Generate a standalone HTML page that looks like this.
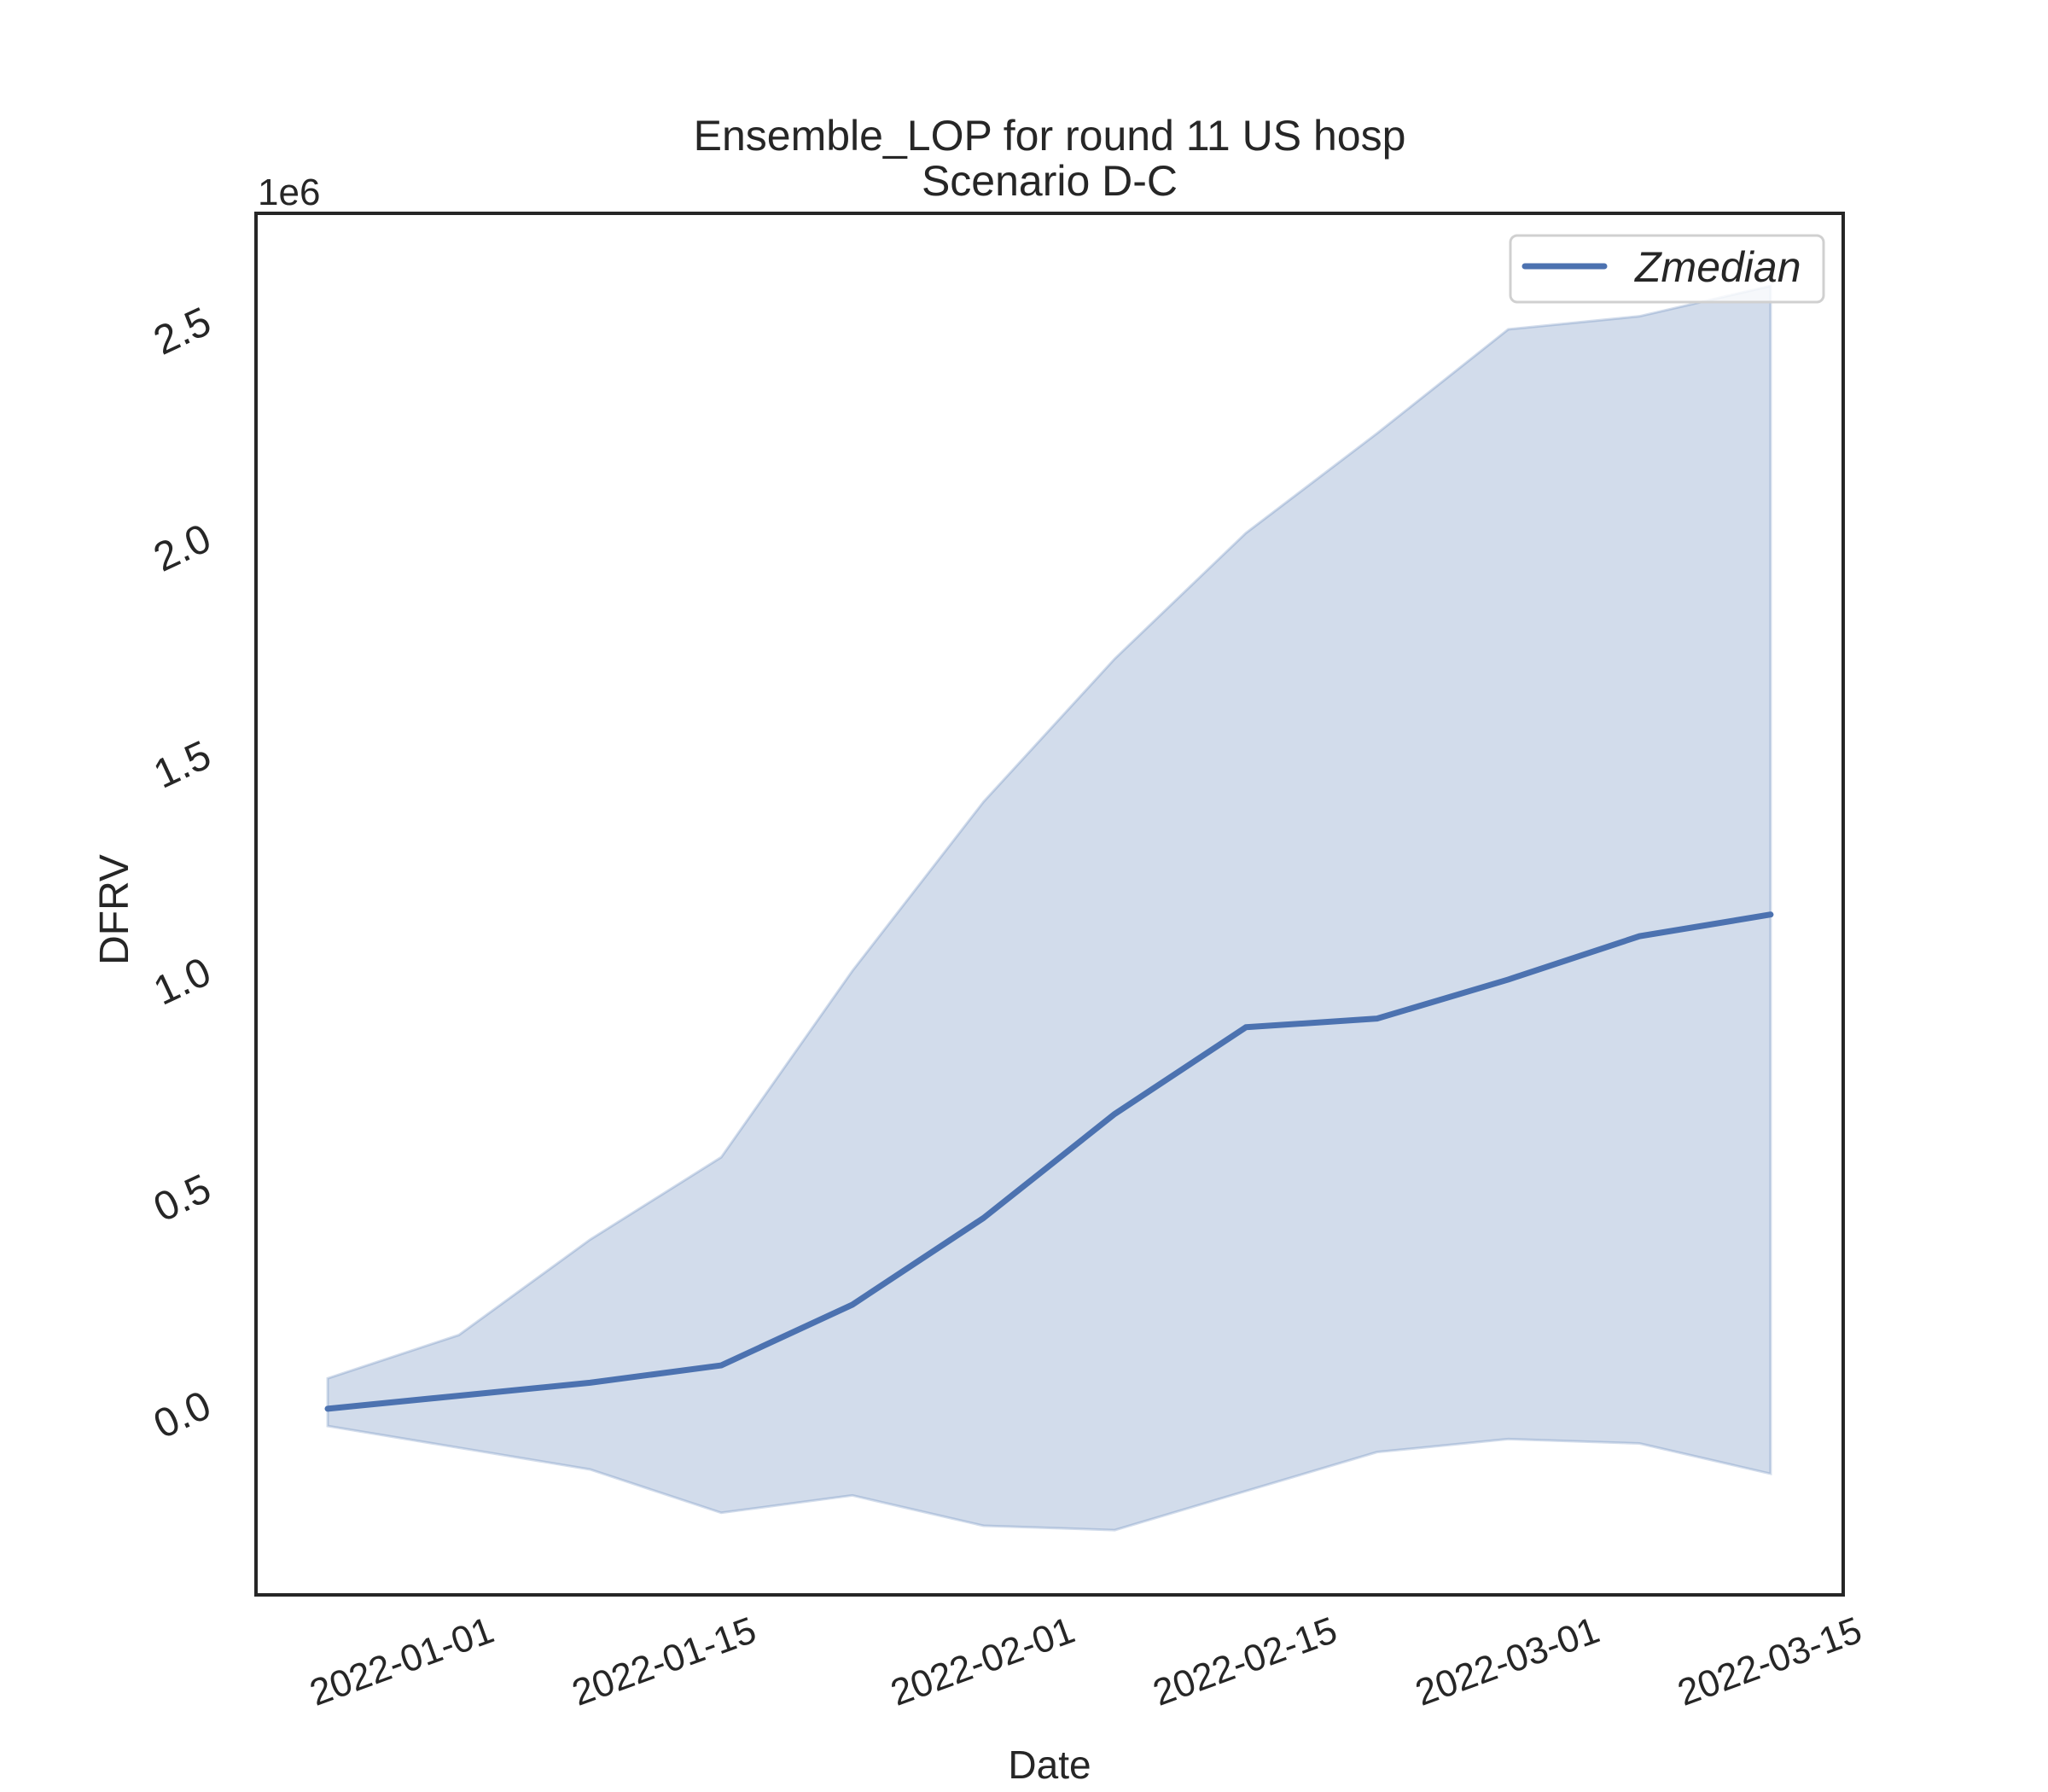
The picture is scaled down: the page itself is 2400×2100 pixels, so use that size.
<!DOCTYPE html>
<html><head><meta charset="utf-8"><style>
html,body{margin:0;padding:0;background:#fff;}
svg{display:block;font-family:"Liberation Sans","DejaVu Sans",sans-serif;}
</style></head><body>
<svg id="chart" width="2400" height="2100" viewBox="0 0 2400 2100" xmlns="http://www.w3.org/2000/svg">
<rect width="2400" height="2100" fill="#fff"/>
<text x="1230" y="176" font-size="50" text-anchor="middle" fill="#262626">Ensemble_LOP for round 11 US hosp</text>
<text x="1230" y="229" font-size="50" text-anchor="middle" fill="#262626">Scenario D-C</text>
<text x="302" y="240" font-size="44" fill="#262626">1e6</text>
<g id="plot"></g>
<rect x="300" y="250" width="1860" height="1619" fill="none" stroke="#262626" stroke-width="4"/>
<text x="1230" y="2084" font-size="46" text-anchor="middle" fill="#262626">Date</text>
<text transform="translate(150,1066) rotate(-90)" font-size="48" text-anchor="middle" fill="#262626">DFRV</text>
<g>
<rect x="1770" y="276" width="367" height="78" rx="8" fill="#fff" fill-opacity="0.8" stroke="#d0d0d0" stroke-width="3"/>
<line x1="1787" y1="312" x2="1880" y2="312" stroke="#4c72b0" stroke-width="7" stroke-linecap="round"/>
<text x="1916" y="330" font-size="50" font-style="italic" fill="#262626">Zmedian</text>
</g>
</svg>
<script>
const dates = ["2021-12-28","2022-01-04","2022-01-11","2022-01-18","2022-01-25","2022-02-01","2022-02-08","2022-02-15","2022-02-22","2022-03-01","2022-03-08","2022-03-15"];
const median = [0.02,0.05,0.08,0.12,0.26,0.46,0.70,0.90,0.92,1.01,1.11,1.16];
const upper = [0.09,0.19,0.41,0.60,1.03,1.42,1.75,2.04,2.27,2.51,2.54,2.61];
const lower = [-0.02,-0.07,-0.12,-0.22,-0.18,-0.25,-0.26,-0.17,-0.08,-0.05,-0.06,-0.13];
const yTicks = [0,0.5,1.0,1.5,2.0,2.5];
const yTickLabels = ["0.0","0.5","1.0","1.5","2.0","2.5"];
const xTicks = ["2022-01-01","2022-01-15","2022-02-01","2022-02-15","2022-03-01","2022-03-15"];

const NS="http://www.w3.org/2000/svg";
const svg=document.getElementById('chart');
const plot=document.getElementById('plot');
const day=86400000;
const t0=Date.parse(dates[0]);
function X(d){return 384+(Date.parse(d)-t0)/day*21.96;}
function Y(v){return 1661-v*508;}
function mk(tag,attrs,parent){const e=document.createElementNS(NS,tag);for(const k in attrs)e.setAttribute(k,attrs[k]);(parent||svg).appendChild(e);return e;}

let pts=dates.map((d,i)=>X(d)+','+Y(upper[i]));
for(let i=dates.length-1;i>=0;i--)pts.push(X(dates[i])+','+Y(lower[i]));
const band=mk('polygon',{points:pts.join(' '),fill:'#4c72b0','fill-opacity':'0.25',stroke:'#4c72b0','stroke-opacity':'0.25','stroke-width':'3'},plot);



const line=mk('polyline',{points:dates.map((d,i)=>X(d)+','+Y(median[i])).join(' '),fill:'none',stroke:'#4c72b0','stroke-width':'7','stroke-linejoin':'round','stroke-linecap':'round'},plot);



yTicks.forEach((v,i)=>{
  const y=Y(v);
  const t=mk('text',{transform:`translate(215,${y}) rotate(-25)`,'font-size':'48','text-anchor':'middle','dominant-baseline':'middle',fill:'#262626'});
  t.textContent=yTickLabels[i];
  
  
});
xTicks.forEach(d=>{
  const x=X(d);
  const t=mk('text',{transform:`translate(${x},1950) rotate(-20)`,'font-size':'44','text-anchor':'middle','dominant-baseline':'middle',fill:'#262626'});
  t.textContent=d;
  
  
});
</script>
</body></html>
